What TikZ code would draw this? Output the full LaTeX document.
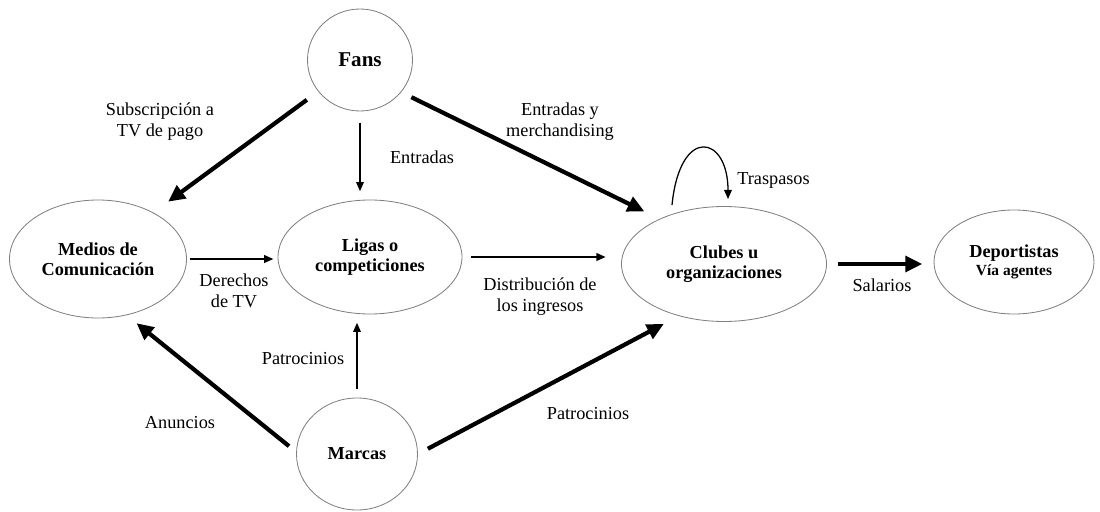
\documentclass[tikz,border=0pt]{standalone}
\usepackage{fontspec}
\setmainfont{Liberation Serif}
\usepackage{tikz}
\usetikzlibrary{calc,positioning,arrows.meta,shapes.geometric}

\begin{document}
\begin{tikzpicture}[
        actor/.style={draw=black!50, line width=0.6pt, ellipse, inner sep=0pt, align=center, font=\fontsize{13}{14.5}\selectfont\bfseries},
        etiqueta/.style={align=center, inner sep=0pt, font=\fontsize{13}{15}\selectfont},
        flujo/.style={-{Triangle[length=6.5pt,width=5.5pt]}, line width=0.9pt},
        flujogrueso/.style={-{Triangle[length=12pt,width=11pt]}, line width=3pt}
    ]
        \useasboundingbox (0,0) rectangle (27.5,12.775);
        % actores
        \node[actor, minimum width=2.625cm, minimum height=2.55cm, font=\fontsize{15}{17}\selectfont\bfseries] (fans) at (9.0,11.275) {Fans};
        \node[actor, minimum width=4.425cm, minimum height=2.95cm] (medios) at (2.45,6.3) {Medios de\\Comunicación};
        \node[actor, minimum width=4.6cm, minimum height=2.85cm] (ligas) at (9.25,6.35) {Ligas o\\competiciones};
        \node[actor, minimum width=5.125cm, minimum height=2.875cm] (clubes) at (18.1,6.175) {Clubes u\\organizaciones};
        \node[actor, minimum width=4.0cm, minimum height=2.6cm] (deport) at (25.35,6.225) {Deportistas\\[-2pt]{\fontsize{11}{13}\selectfont Vía agentes}};
        \node[actor, minimum width=3.025cm, minimum height=2.8cm] (marcas) at (8.925,1.425) {Marcas};
        % etiquetas
        \node[etiqueta] (lsubs) at (4.0,9.74) {Subscripción a\\TV de pago};
        \node[etiqueta] (lentr) at (10.55,8.85) {Entradas};
        \node[etiqueta] (lmerch) at (14.0,9.74) {Entradas y\\merchandising};
        \node[etiqueta, anchor=west] (ltrasp) at (18.425,8.275) {Traspasos};
        \node[etiqueta] (lderech) at (5.85,5.51) {Derechos\\de TV};
        \node[etiqueta] (ldistr) at (13.5,5.35) {Distribución de\\los ingresos};
        \node[etiqueta] (lsal) at (22.05,5.65) {Salarios};
        \node[etiqueta] (lpatr1) at (7.575,3.8) {Patrocinios};
        \node[etiqueta] (lanun) at (4.5,2.2) {Anuncios};
        \node[etiqueta] (lpatr2) at (14.7,2.425) {Patrocinios};
        % flujos
        \draw[flujogrueso, shorten <=10pt, shorten >=13pt] (fans.217) -- (medios.40);
        \draw[flujo, shorten <=8pt, shorten >=6pt] (fans.south) -- (fans.south |- ligas.north);
        \draw[flujogrueso, shorten <=8pt, shorten >=12pt] (fans.322) -- (clubes.145);
        \draw[flujo, shorten <=2pt, shorten >=3pt] (medios.east) -- (medios.east -| ligas.west);
        \draw[flujo, shorten <=6pt, shorten >=11pt] (ligas.east) -- (ligas.east -| clubes.west);
        \draw[flujogrueso, shorten <=8pt, shorten >=8pt] (clubes.east) -- (clubes.east -| deport.west);
        \draw[flujogrueso, shorten <=6.5pt, shorten >=9pt] (marcas.178) -- (medios.297);
        \draw[flujo, shorten <=6pt, shorten >=6pt] (marcas.north) -- (marcas.north |- ligas.south);
        \draw[flujogrueso, shorten <=8pt, shorten >=12pt] (marcas.east) -- (clubes.229);
        \draw[flujo] ($(clubes.center)+(-1.3,1.475)$) .. controls +(0.2,2.0) and +(0,1.6) .. ($(clubes.center)+(0.1,1.625)$);
\end{tikzpicture}
\end{document}
